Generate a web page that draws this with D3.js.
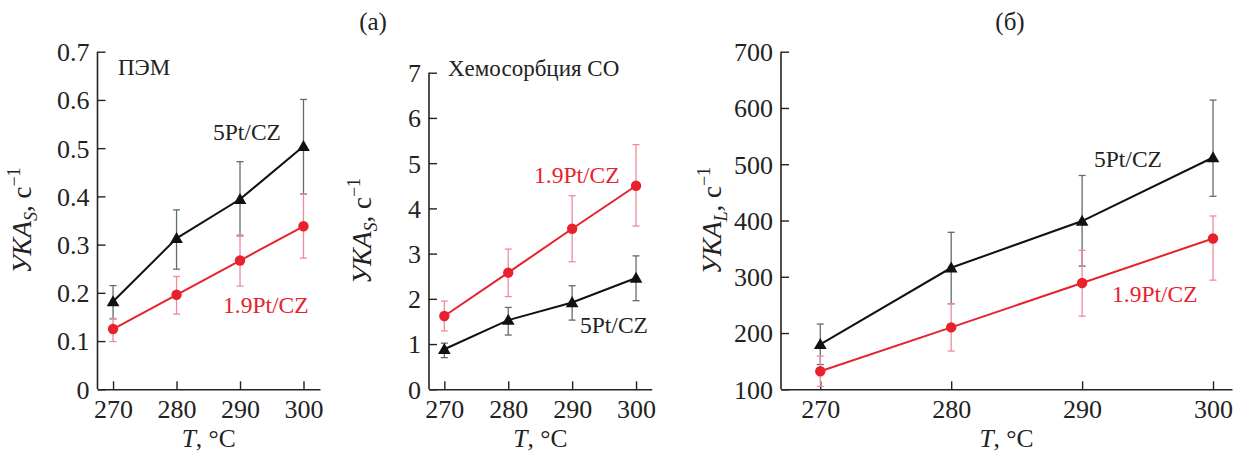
<!DOCTYPE html>
<html><head><meta charset="utf-8">
<script src="https://cdn.jsdelivr.net/npm/d3@7"></script>
<style>body{margin:0;background:#fff;}</style>
</head><body>
<svg id="c" width="1235" height="453" font-family="Liberation Serif"></svg>
<script>
// ---- data ----
const temps = [270, 280, 290, 300];
const xTicks = [270, 280, 290, 300];

// (a) ПЭМ
const pem5   = [0.182, 0.313, 0.394, 0.504];
const pem5Hi = [0.215, 0.372, 0.472, 0.601];
const pem5Lo = [0.146, 0.249, 0.318, 0.405];
const pem19   = [0.125, 0.196, 0.267, 0.338];
const pem19Hi = [0.147, 0.234, 0.320, 0.405];
const pem19Lo = [0.099, 0.156, 0.214, 0.272];
const pemTicks = [0, 0.1, 0.2, 0.3, 0.4, 0.5, 0.6, 0.7];

// (a) Хемосорбция CO
const co5   = [0.885, 1.53, 1.92, 2.46];
const co5Hi = [1.02, 1.81, 2.29, 2.95];
const co5Lo = [0.70, 1.20, 1.53, 1.96];
const co19   = [1.62, 2.58, 3.55, 4.50];
const co19Hi = [1.95, 3.10, 4.28, 5.41];
const co19Lo = [1.29, 2.05, 2.82, 3.61];
const coTicks = [0, 1, 2, 3, 4, 5, 6, 7];

// (б)
const l5   = [180, 316, 399, 512];
const l5Hi = [216, 379, 480, 614];
const l5Lo = [144, 252, 319, 443];
const l19   = [132, 210, 289, 368];
const l19Hi = [159, 252, 347, 408];
const l19Lo = [105, 168, 230, 294];
const lTicks = [100, 200, 300, 400, 500, 600, 700];

const seriesNames = ["5Pt/CZ", "1.9Pt/CZ"];

// ---- styles ----
const FONT = "Liberation Serif";
const RED = "#e8222d", BLACK = "#111";
const RED_ERR = "#f08a9a", BLACK_ERR = "#5e6e6e";
const svg = d3.select("#c");

function txt(sel) { return sel.attr("font-family", FONT); }

function panel(cfg) {
  const x = d3.scaleLinear().domain(cfg.xDom).range([cfg.left, cfg.right]);
  const y = d3.scaleLinear().domain(cfg.yDom).range([cfg.bottom, cfg.yTopPx]);
  const g = svg.append("g").attr("font-family", FONT);

  // axes (ticks inward)
  const ax = d3.axisBottom(x).tickValues(xTicks).tickSizeInner(-8).tickSizeOuter(0).tickPadding(11);
  const gx = g.append("g").attr("transform", `translate(0,${cfg.bottom})`).call(ax);
  const ay = d3.axisLeft(y).tickValues(cfg.yTicks).tickSizeInner(-8).tickSizeOuter(0).tickPadding(8)
      .tickFormat(cfg.fmt);
  const gy = g.append("g").attr("transform", `translate(${cfg.left},0)`).call(ay);
  [gx, gy].forEach(a => {
    a.attr("font-family", FONT).attr("font-size", 26);
    a.select(".domain").attr("stroke", "#222").attr("stroke-width", 1.6);
    a.selectAll(".tick line").attr("stroke", "#222").attr("stroke-width", 1.4);
    a.selectAll(".tick text").attr("fill", "#222").attr("font-family", FONT);
  });
  gy.select(".domain").attr("d", `M0,${cfg.bottom}V${y(cfg.yDom[1])}`);
  gy.selectAll(".tick text").attr("dy", "0.34em");
  gx.selectAll(".tick text").attr("dy", "0.68em");

  // series
  cfg.series.forEach(s => {
    const pts = temps.map((t, i) => ({t, v: s.v[i], hi: s.hi[i], lo: s.lo[i]}));
    const eg = g.append("g").attr("stroke", s.err).attr("stroke-width", 1.3).attr("fill", "none");
    pts.forEach(p => {
      eg.append("line").attr("x1", x(p.t)).attr("x2", x(p.t)).attr("y1", y(p.lo)).attr("y2", y(p.hi));
      [p.lo, p.hi].forEach(e => eg.append("line").attr("x1", x(p.t) - 3.5).attr("x2", x(p.t) + 3.5)
        .attr("y1", y(e)).attr("y2", y(e)));
    });
  });
  cfg.series.forEach(s => {
    const pts = temps.map((t, i) => ({t, v: s.v[i]}));
    g.append("path").datum(pts).attr("fill", "none").attr("stroke", s.color).attr("stroke-width", 2)
      .attr("d", d3.line().x(d => x(d.t)).y(d => y(d.v)));
    if (s.marker === "tri") {
      g.selectAll(null).data(pts).enter().append("path")
        .attr("d", d3.symbol().type(d3.symbolTriangle).size(70))
        .attr("transform", d => `translate(${x(d.t)},${y(d.v) + 1})`).attr("fill", s.color);
    } else {
      g.selectAll(null).data(pts).enter().append("circle")
        .attr("cx", d => x(d.t)).attr("cy", d => y(d.v)).attr("r", 5.2).attr("fill", s.color);
    }
  });

  // y title
  const cx = (cfg.left + cfg.right) / 2;
  const yt = txt(g.append("text")).attr("transform", `translate(${cfg.yTitleX},${(cfg.bottom + y(cfg.yDom[1])) / 2}) rotate(-90)`)
    .attr("text-anchor", "middle").attr("fill", "#222").attr("font-size", 27);
  yt.append("tspan").attr("font-style", "italic").text("УКА");
  yt.append("tspan").attr("font-style", "italic").attr("font-size", 18).attr("dy", 6).text(cfg.sub);
  yt.append("tspan").attr("dy", -6).text(", с");
  yt.append("tspan").attr("font-size", 18).attr("dy", -11).text("−1");

  // x title
  const xt = txt(g.append("text")).attr("x", cx).attr("y", 447).attr("text-anchor", "middle")
    .attr("fill", "#222").attr("font-size", 25.5);
  xt.append("tspan").attr("font-style", "italic").text("T");
  xt.append("tspan").text(", °C");

  // annotations
  cfg.notes.forEach(n => txt(g.append("text")).attr("x", n.x).attr("y", n.y).attr("fill", n.c)
    .attr("font-size", n.s || 23.5).text(n.t));
}

panel({
  left: 97.5, right: 320, bottom: 389.3, yTopPx: 51.7,
  xDom: [267.55, 302.6], yDom: [0, 0.7], yTicks: pemTicks, fmt: d => d === 0 ? "0" : d3.format(".1f")(d),
  yTitleX: 31, sub: "S",
  series: [
    {v: pem5, hi: pem5Hi, lo: pem5Lo, color: BLACK, err: BLACK_ERR, marker: "tri"},
    {v: pem19, hi: pem19Hi, lo: pem19Lo, color: RED, err: RED_ERR, marker: "circ"}
  ],
  notes: [
    {t: "ПЭМ", x: 118, y: 75, c: "#222", s: 23},
    {t: seriesNames[0], x: 213, y: 140, c: "#222"},
    {t: seriesNames[1], x: 223, y: 313, c: RED}
  ]
});

panel({
  left: 429, right: 651.7, bottom: 389.3, yTopPx: 72.7,
  xDom: [267.6, 302.45], yDom: [0, 7], yTicks: coTicks, fmt: d3.format("d"),
  yTitleX: 371, sub: "S",
  series: [
    {v: co5, hi: co5Hi, lo: co5Lo, color: BLACK, err: BLACK_ERR, marker: "tri"},
    {v: co19, hi: co19Hi, lo: co19Lo, color: RED, err: RED_ERR, marker: "circ"}
  ],
  notes: [
    {t: "Хемосорбция СО", x: 448, y: 76, c: "#222", s: 23},
    {t: seriesNames[1], x: 534, y: 183, c: RED},
    {t: seriesNames[0], x: 580, y: 333, c: "#222"}
  ]
});

panel({
  left: 781, right: 1232, bottom: 389.3, yTopPx: 51.7,
  xDom: [267.0, 301.45], yDom: [100, 700], yTicks: lTicks, fmt: d3.format("d"),
  yTitleX: 721, sub: "L",
  series: [
    {v: l5, hi: l5Hi, lo: l5Lo, color: BLACK, err: BLACK_ERR, marker: "tri"},
    {v: l19, hi: l19Hi, lo: l19Lo, color: RED, err: RED_ERR, marker: "circ"}
  ],
  notes: [
    {t: seriesNames[0], x: 1094, y: 167, c: "#222"},
    {t: seriesNames[1], x: 1112, y: 302, c: RED}
  ]
});

// panel letters
txt(svg.append("text")).attr("x", 373).attr("y", 30).attr("text-anchor", "middle").attr("fill", "#222")
  .attr("font-size", 25).text("(a)");
txt(svg.append("text")).attr("x", 1010).attr("y", 30).attr("text-anchor", "middle").attr("fill", "#222")
  .attr("font-size", 25).text("(б)");
</script>
</body></html>
